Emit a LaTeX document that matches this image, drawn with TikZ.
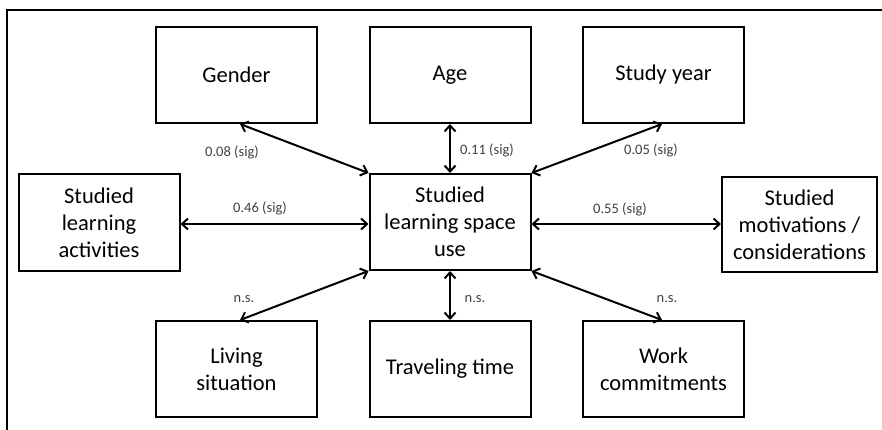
\documentclass[tikz,border=0pt]{standalone}
\usepackage{fontspec}
\setmainfont{Carlito}
\usetikzlibrary{arrows.meta}

\begin{document}
\begin{tikzpicture}[x=1pt, y=-1pt,
    factor/.style={draw, line width=2pt, align=center, minimum width=161pt, minimum height=96pt, inner sep=0pt, font=\fontsize{22.5}{27}\selectfont},
    link/.style={{Straight Barb[length=6pt,width=11pt]}-{Straight Barb[length=6pt,width=11pt]}, line width=2pt},
    corr/.style={text=black!75, font=\fontsize{14.5}{17}\selectfont, inner sep=0pt}]
    \useasboundingbox (0,0) rectangle (882,430);
    \clip (0,0) rectangle (882,430);
    \draw[line width=2pt] (7,10) rectangle (910,460);

    \node[factor] (gender) at (236.5,75) {Gender};
    \node[factor] (age) at (450,75) {Age};
    \node[factor] (year) at (663.5,75) {Study year};
    \node[factor] (use) at (450,222) {Studied\\learning space\\use};
    \node[factor] (activities) at (99,222.5) {Studied\\learning\\activities};
    \node[factor, minimum width=155pt, minimum height=95pt] (motivations) at (799.5,224.5) {Studied\\motivations /\\considerations};
    \node[factor] (living) at (236.5,369) {Living\\situation};
    \node[factor] (travel) at (450,369) {Traveling time};
    \node[factor] (work) at (663.5,369) {Work\\commitments};

    \draw[link] ([xshift=3.5pt]gender.south) -- (use.north west);
    \draw[link] (age) -- (use);
    \draw[link] ([xshift=-1.5pt]year.south) -- (use.north east);
    \draw[link] (activities.east |- 0,224) -- (use.west |- 0,224);
    \draw[link] (use.east |- 0,224) -- (motivations.west |- 0,224);
    \draw[link] (use.south west) -- ([xshift=3.5pt]living.north);
    \draw[link] (use) -- (travel);
    \draw[link] (use.south east) -- ([xshift=-1.5pt]work.north);

    \node[corr] (lgender) at (232,152) {0.08 (sig)};
    \node[corr, anchor=west] (lage) at (460,150) {0.11 (sig)};
    \node[corr] (lyear) at (651,150) {0.05 (sig)};
    \node[corr] (lactivities) at (260,208) {0.46 (sig)};
    \node[corr] (lmotivations) at (620,209) {0.55 (sig)};
    \node[corr] (lliving) at (244,299) {n.s.};
    \node[corr] (ltravel) at (475,299) {n.s.};
    \node[corr] (lwork) at (667,299) {n.s.};
\end{tikzpicture}
\end{document}
